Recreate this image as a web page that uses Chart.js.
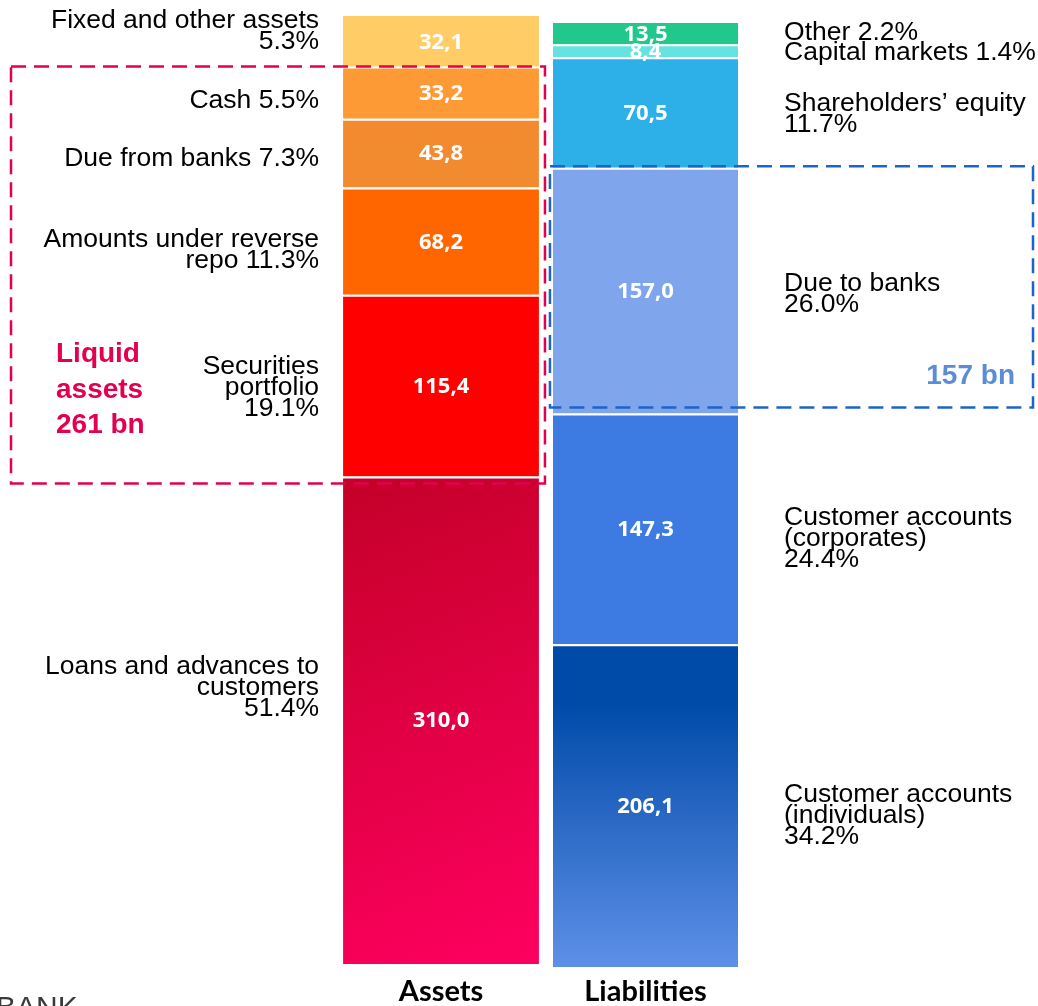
<!DOCTYPE html>
<html>
<head>
<meta charset="utf-8">
<title>Balance sheet structure</title>
<script src="https://cdn.jsdelivr.net/npm/chart.js@4.4.1/dist/chart.umd.min.js"></script>
<style>
  html, body { margin: 0; padding: 0; background: #fff; }
  #wrap { position: relative; width: 1038px; height: 1006px; }
</style>
</head>
<body>
<div id="wrap"><canvas id="balanceChart"></canvas></div>
<script>
// columns
const columns = ['Assets', 'Liabilities'];

// assets, bottom to top (bn)
const assetValues = [310.0, 115.4, 68.2, 43.8, 33.2, 32.1];
const assetLabels = [
  ['Loans and advances to', 'customers', '51.4%'],
  ['Securities', 'portfolio', '19.1%'],
  ['Amounts under reverse', 'repo 11.3%'],
  ['Due from banks 7.3%'],
  ['Cash 5.5%'],
  ['Fixed and other assets', '5.3%']
];

// liabilities, bottom to top (bn)
const liabValues = [206.1, 147.3, 157.0, 70.5, 8.4, 13.5];
const liabLabels = [
  ['Customer accounts', '(individuals)', '34.2%'],
  ['Customer accounts', '(corporates)', '24.4%'],
  ['Due to banks', '26.0%'],
  ['Shareholders\u2019 equity', '11.7%'],
  ['Capital markets 1.4%'],
  ['Other 2.2%']
];

// callouts
const liquidText = ['Liquid', 'assets', '261 bn'];
const dueBanksText = '157 bn';

const assetColors = ['grad', '#FF0000', '#FF6600', '#F28A30', '#FE9A35', '#FFCC66'];
const liabColors = ['grad', '#3D7BE3', '#7FA6EC', '#2DB0E8', '#66E3E0', '#21C78B'];

// small vertical shifts of the side labels, px
const assetNudge = [-35, 0, 7, 3, 6, -12.6];
const liabNudge = [8, 8, 1, 0, 0, -3];

const fmt = v => v.toFixed(1).replace('.', ',');

function assetGradient(ctx) {
  const chart = ctx.chart;
  if (!chart.chartArea) return '#D8003F';
  const x = chart.scales.x, y = chart.scales.y;
  const cx = x.getPixelForValue(0);
  const g = chart.ctx.createLinearGradient(cx - 98, y.getPixelForValue(assetValues[0]),
                                           cx + 98, y.getPixelForValue(0));
  g.addColorStop(0, '#C40028');
  g.addColorStop(1, '#FF0060');
  return g;
}

function liabGradient(ctx) {
  const chart = ctx.chart;
  if (!chart.chartArea) return '#2A66C8';
  const y = chart.scales.y2;
  const g = chart.ctx.createLinearGradient(0, y.getPixelForValue(liabValues[0]), 0, y.getPixelForValue(0));
  g.addColorStop(0, '#004AA8');
  g.addColorStop(0.18, '#004AA8');
  g.addColorStop(1, '#5E90E8');
  return g;
}

// white gap above every segment except the top one
const gap = last => ({top: last ? 0 : 2, bottom: 0, left: 0, right: 0});

const datasets = [];
assetValues.forEach((v, i) => {
  datasets.push({
    label: assetLabels[i].join(' '),
    data: [v, null],
    yAxisID: 'y',
    backgroundColor: assetColors[i] === 'grad' ? assetGradient : assetColors[i],
    borderColor: '#fff',
    borderWidth: gap(i === assetValues.length - 1),
    borderSkipped: false,
    barPercentage: 0.958,
    categoryPercentage: 1
  });
});
liabValues.forEach((v, i) => {
  datasets.push({
    label: liabLabels[i].join(' '),
    data: [null, v],
    yAxisID: 'y2',
    backgroundColor: liabColors[i] === 'grad' ? liabGradient : liabColors[i],
    borderColor: '#fff',
    borderWidth: gap(i === liabValues.length - 1),
    borderSkipped: false,
    barPercentage: 0.905,
    categoryPercentage: 1
  });
});

function drawBlock(ctx, lines, x, center, lh, capH) {
  const first = center + capH / 2 - (lines.length - 1) * lh / 2;
  lines.forEach((t, k) => ctx.fillText(t, x, first + k * lh));
}

const cum = (arr, n) => arr.slice(0, n).reduce((a, b) => a + b, 0);

const overlay = {
  id: 'overlay',
  afterDatasetsDraw(chart) {
    const ctx = chart.ctx;
    const ya = chart.scales.y, yl = chart.scales.y2;
    const nA = assetValues.length;
    const aBar = i => chart.getDatasetMeta(i).data[0];
    const lBar = i => chart.getDatasetMeta(nA + i).data[1];

    ctx.save();
    // values inside the bars
    ctx.fillStyle = '#fff';
    ctx.font = 'bold 22px "Open Sans", Lato, sans-serif';
    ctx.textAlign = 'center';
    ctx.textBaseline = 'middle';
    assetValues.forEach((v, i) => {
      const el = aBar(i);
      ctx.fillText(fmt(v), el.x, (el.y + el.base) / 2 + 1);
    });
    liabValues.forEach((v, i) => {
      const el = lBar(i);
      ctx.fillText(fmt(v), el.x, (el.y + el.base) / 2 + 1);
    });

    // side labels
    ctx.fillStyle = '#000';
    ctx.font = '26.5px "Liberation Sans", Arial, sans-serif';
    ctx.textBaseline = 'alphabetic';
    ctx.textAlign = 'right';
    const a0 = aBar(0);
    const leftX = a0.x - a0.width / 2 - 24;
    assetLabels.forEach((lines, i) => {
      const el = aBar(i);
      drawBlock(ctx, lines, leftX, (el.y + el.base) / 2 + assetNudge[i], 21, 18.8);
    });
    ctx.textAlign = 'left';
    const l0 = lBar(0);
    const rightX = l0.x + l0.width / 2 + 46;
    liabLabels.forEach((lines, i) => {
      const el = lBar(i);
      drawBlock(ctx, lines, rightX, (el.y + el.base) / 2 + liabNudge[i], 21, 18.8);
    });

    // liquid assets box
    const redL = 11;
    const redR = a0.x + a0.width / 2 + 6;
    const redT = ya.getPixelForValue(cum(assetValues, 5));
    const redB = ya.getPixelForValue(assetValues[0]) + 7;
    ctx.setLineDash([15, 8]);
    ctx.lineWidth = 2.5;
    ctx.strokeStyle = '#E2004F';
    ctx.strokeRect(redL, redT, redR - redL, redB - redT);

    // due to banks box
    const blueL = l0.x - l0.width / 2 - 3;
    const blueR = 1033;
    const blueT = yl.getPixelForValue(cum(liabValues, 3)) - 1.5;
    const blueB = yl.getPixelForValue(cum(liabValues, 2)) - 6;
    ctx.strokeStyle = '#1E64C8';
    ctx.strokeRect(blueL, blueT, blueR - blueL, blueB - blueT);
    ctx.setLineDash([]);

    // callout texts
    ctx.font = 'bold 28px "Liberation Sans", Arial, sans-serif';
    ctx.fillStyle = '#E2004F';
    ctx.textAlign = 'left';
    const sec = aBar(1);
    drawBlock(ctx, liquidText, redL + 45, (sec.y + sec.base) / 2 + 2, 35.5, 20);
    ctx.fillStyle = '#5B8DD6';
    ctx.textAlign = 'right';
    ctx.fillText(dueBanksText, blueR - 18, blueB - 24);

    // logo fragment at the bottom edge
    ctx.fillStyle = '#3a3a3a';
    ctx.font = '30px "Liberation Sans", Arial, sans-serif';
    ctx.textAlign = 'left';
    ctx.fillText('BANK', -4, 1017);
    ctx.restore();
  }
};

new Chart(document.getElementById('balanceChart'), {
  type: 'bar',
  data: {labels: columns, datasets: datasets},
  options: {
    responsive: true,
    maintainAspectRatio: false,
    animation: false,
    layout: {padding: {left: 338.75, right: 290.25, top: 10, bottom: 0}},
    plugins: {legend: {display: false}, tooltip: {enabled: false}},
    scales: {
      x: {
        stacked: true,
        grid: {display: false, drawTicks: false},
        border: {display: false},
        ticks: {
          padding: 0,
          color: '#000',
          font: {family: 'Lato, "Open Sans", sans-serif', weight: 'bold', size: 29, lineHeight: 1}
        }
      },
      y: {stacked: true, display: false, min: -8.265, max: 606.51},
      y2: {stacked: true, display: false, min: -6.386, max: 611.10}
    }
  },
  plugins: [overlay]
});
</script>
</body>
</html>
